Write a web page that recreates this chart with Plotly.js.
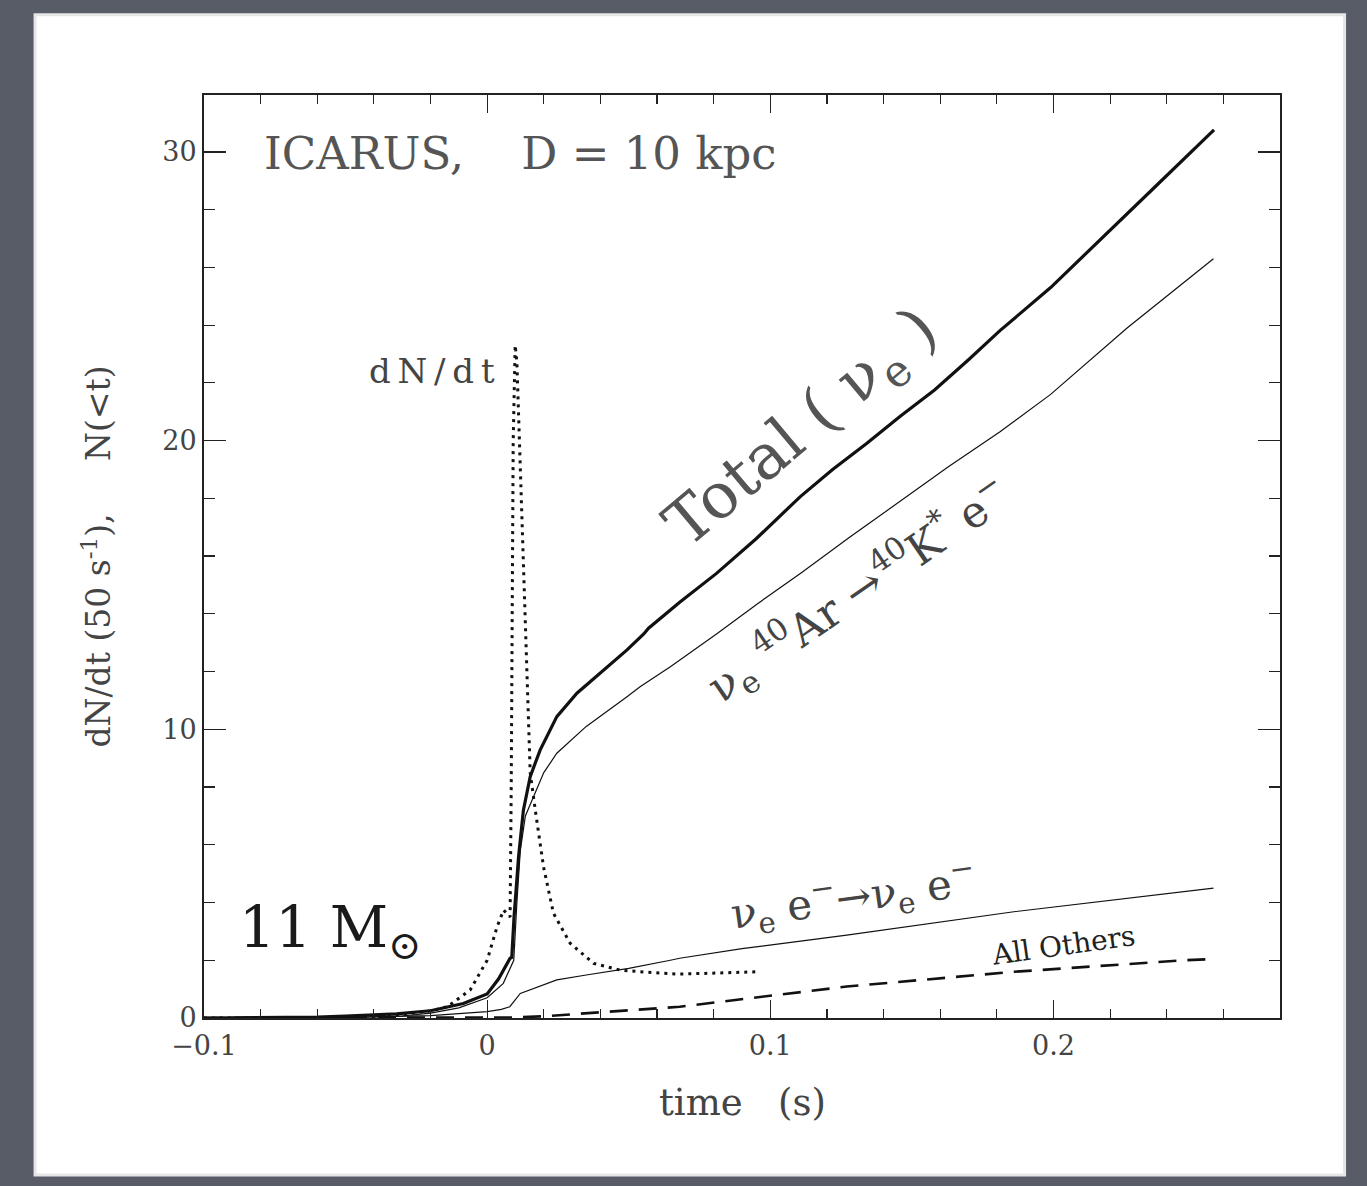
<!DOCTYPE html>
<html>
<head>
<meta charset="utf-8">
<script src="https://cdn.plot.ly/plotly-3.0.1.min.js"></script>
<style>
html,body{margin:0;padding:0;background:#585c66;}
#chart{width:1367px;height:1186px;}
</style>
</head>
<body>
<div id="chart"></div>
<script>
// ---- data ----
var tTotal = [-0.1,-0.08,-0.06,-0.05,-0.04,-0.032,-0.02,-0.0084,0,0.004,0.0081,0.0087,0.0095,0.0111,0.0128,0.0152,0.0187,0.0234,0.0246,0.0317,0.0399,0.0494,0.0553,0.057,0.068,0.081,0.095,0.1106,0.122,0.134,0.146,0.158,0.17,0.181,0.199,0.2166,0.236,0.2567];
var nTotal = [0,0.01,0.03,0.07,0.1,0.14,0.25,0.5,0.83,1.35,2.07,2.1,3.5,5.6,7.2,8.36,9.28,10.2,10.44,11.25,11.94,12.75,13.3,13.5,14.4,15.4,16.6,18.06,19.0,19.9,20.85,21.75,22.8,23.8,25.3,26.95,28.8,30.76];

var tAr = [-0.1,-0.06,-0.04,-0.03,-0.02,-0.01,0,0.0057,0.0094,0.0105,0.0117,0.0135,0.0164,0.02,0.0246,0.035,0.0494,0.054,0.0647,0.081,0.0955,0.1106,0.128,0.146,0.163,0.181,0.199,0.226,0.2565];
var nAr = [0,0.01,0.04,0.07,0.17,0.35,0.7,1.2,2.0,4.0,5.8,7.0,7.67,8.5,9.17,10.1,11.13,11.47,12.17,13.3,14.35,15.4,16.65,17.9,19.1,20.3,21.6,23.9,26.3];

var tEs = [-0.1,-0.05,-0.02,0,0.005,0.008,0.0117,0.015,0.0246,0.035,0.05,0.0647,0.068,0.09,0.127,0.186,0.2565];
var nEs = [0,0.02,0.08,0.22,0.3,0.39,0.85,0.97,1.32,1.49,1.72,2.0,2.07,2.4,2.87,3.68,4.5];

var tOthers = [-0.1,0,0.01,0.02,0.04,0.068,0.127,0.186,0.246,0.2565];
var nOthers = [0,0,0.02,0.06,0.2,0.39,1.09,1.6,2.0,2.04];

var tRate = [-0.1,-0.06,-0.04,-0.03,-0.02,-0.014,-0.006,0,0.0035,0.0058,0.0075,0.0081,0.0085,0.0088,0.0092,0.0099,0.0105,0.01166,0.0128,0.014,0.0152,0.017,0.0199,0.0234,0.0293,0.0376,0.047,0.0587,0.068,0.095];
var nRate = [0,0.01,0.05,0.12,0.25,0.39,0.97,2.0,3.16,3.74,3.55,3.5,8,14,20,23.3,22.7,19.2,15.7,11.8,8.5,7.2,5.24,3.63,2.59,1.89,1.66,1.57,1.52,1.6];

var xTickVals = [-0.1,0,0.1,0.2];
var xTickText = ['\u22120.1','0','0.1','0.2'];
var yTickVals = [0,10,20,30];
var yTickText = ['0','10','20','30'];

var serif = 'DejaVu Serif, Liberation Serif, serif';
var ink = '#111';
var textInk = '#444';
var sp = '\u00A0';

var traces = [
  {x:tRate, y:nRate, mode:'lines', line:{color:ink, width:3, dash:'3px,5px'}, hoverinfo:'skip'},
  {x:tOthers, y:nOthers, mode:'lines', line:{color:ink, width:2.6, dash:'18px,11px'}, hoverinfo:'skip'},
  {x:tEs, y:nEs, mode:'lines', line:{color:ink, width:1.2}, hoverinfo:'skip'},
  {x:tAr, y:nAr, mode:'lines', line:{color:ink, width:1.2}, hoverinfo:'skip'},
  {x:tTotal, y:nTotal, mode:'lines', line:{color:ink, width:3.2}, hoverinfo:'skip'}
];

var axisCommon = {
  showgrid:false, zeroline:false, showline:true, linecolor:'#222', linewidth:2,
  mirror:'allticks', ticks:'inside', tickcolor:'#222', tickwidth:1.3,
  tickfont:{family:serif, size:27, color:textInk}
};

var layout = {
  width:1367, height:1186,
  margin:{l:204, r:87, t:95, b:168},
  paper_bgcolor:'#585c66', plot_bgcolor:'#ffffff',
  showlegend:false,
  xaxis:Object.assign({}, axisCommon, {
    range:[-0.1,0.28], tickmode:'array', tickvals:xTickVals, ticktext:xTickText, ticklen:18,
    ticklabelstandoff:3,
    minor:{dtick:0.02, tick0:0, ticks:'inside', ticklen:9, tickcolor:'#222', tickwidth:1.2}
  }),
  yaxis:Object.assign({}, axisCommon, {
    range:[0,31.97], tickmode:'array', tickvals:yTickVals, ticktext:yTickText, ticklen:22,
    minor:{dtick:2, tick0:0, ticks:'inside', ticklen:11, tickcolor:'#222', tickwidth:1.2}
  }),
  shapes:[
    {type:'rect', xref:'paper', yref:'paper', x0:-0.157, x1:1.060, y0:-0.170, y1:1.087,
     fillcolor:'#ffffff', line:{color:'#e6e6e6', width:3}, layer:'below'}
  ],
  annotations:[
    {x:-0.0795, y:29.96, xref:'x', yref:'y', xanchor:'left', yanchor:'middle', showarrow:false,
     text:'ICARUS,'+sp+sp+sp+' D = 10 kpc', font:{family:serif, size:45, color:'#555'}},
    {x:0.0035, y:22.4, xref:'x', yref:'y', xanchor:'right', yanchor:'middle', showarrow:false,
     text:'d\u2009N\u2009/\u2009d\u2009t', font:{family:serif, size:34, color:textInk}},
    {x:0.1115, y:20.4, xref:'x', yref:'y', showarrow:false, textangle:-40,
     text:'Total'+sp+'('+sp+'\u03BD<sub>e</sub>'+sp+')', font:{family:serif, size:63, color:'#555'}},
    {x:0.131, y:14.8, xref:'x', yref:'y', showarrow:false, textangle:-34.5,
     text:'\u03BD<sub>e</sub> <sup>40</sup>Ar \u2192<sup>40</sup>K<sup>*</sup> e<sup>\u2212</sup>', font:{family:serif, size:44, color:textInk}},
    {x:0.1295, y:4.2, xref:'x', yref:'y', showarrow:false, textangle:-8,
     text:'\u03BD<sub>e</sub> e<sup>\u2212</sup>\u2192\u03BD<sub>e</sub> e<sup>\u2212</sup>', font:{family:serif, size:42, color:textInk}},
    {x:0.2035, y:2.5, xref:'x', yref:'y', showarrow:false, textangle:-8,
     text:'All Others', font:{family:serif, size:28, color:'#222'}},
    {x:-0.0555, y:3.0, xref:'x', yref:'y', showarrow:false,
     text:'11 M<sub>\u2299</sub>', font:{family:serif, size:57, color:'#1a1a1a'}},
    {x:-0.0994, y:0.5, xref:'paper', yref:'paper', xanchor:'center', yanchor:'middle', showarrow:false, textangle:-90,
     text:'dN/dt (50 s<sup>-1</sup>),'+sp+sp+sp+sp+' N(&lt;t)', font:{family:serif, size:33, color:textInk}},
    {x:0.5, y:-0.092, xref:'paper', yref:'paper', xanchor:'center', yanchor:'middle', showarrow:false,
     text:'time'+sp+sp+sp+'(s)', font:{family:serif, size:37, color:textInk}}
  ]
};

Plotly.newPlot('chart', traces, layout, {staticPlot:true, displayModeBar:false});
</script>
</body>
</html>
